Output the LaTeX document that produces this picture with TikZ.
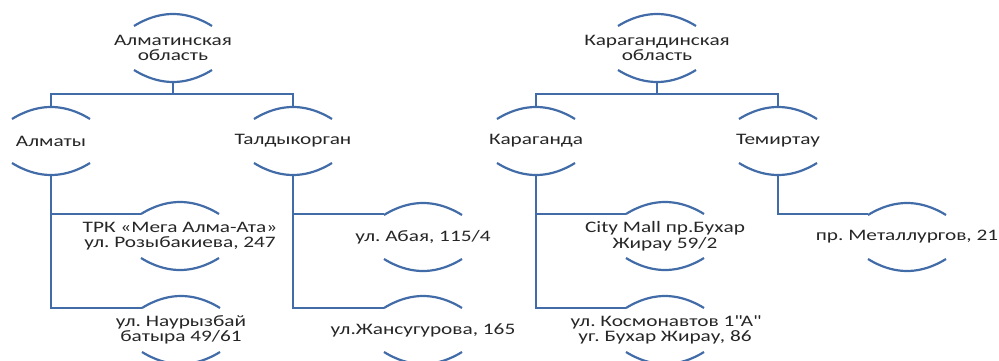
\documentclass[tikz,border=0pt]{standalone}
\usepackage{fontspec}
\setmainfont{Carlito}
\newfontfamily\widefont[FakeStretch=1.33]{Carlito}
\usetikzlibrary{calc}
\frenchspacing

\definecolor{rimblue}{RGB}{66,108,168}
\definecolor{txtgray}{RGB}{38,38,38}

\tikzset{
  lbl/.style={font=\widefont\fontsize{16}{15.5}\selectfont, text=txtgray, align=center, inner sep=0pt},
  rim/.style={draw=rimblue, line width=2.2pt},
  link/.style={draw=rimblue, line width=2.6pt},
}

\begin{document}
\begin{tikzpicture}[x=1pt, y=-1pt]
    \useasboundingbox (0,0) rectangle (999,361);
    % regions
    \node[lbl] (alm) at (173,48) {Алматинская\\область};
    \node[lbl] (kar) at (657,48) {Карагандинская\\область};
    % cities
    \node[lbl] (almaty) at (51,141) {Алматы};
    \node[lbl] (taldy) at (293,141) {Талдыкорган};
    \node[lbl] (karag) at (536,141) {Караганда};
    \node[lbl] (temir) at (778,141) {Темиртау};
    % addresses
    \node[lbl] (mega) at (180,236) {ТРК «Мега Алма-Ата»\\ул. Розыбакиева, 247};
    \node[lbl] (nauryz) at (181,330) {ул. Наурызбай\\батыра 49/61};
    \node[lbl] (abaya) at (423,237) {ул. Абая, 115/4};
    \node[lbl] (zhans) at (423,330) {ул.Жансугурова, 165};
    \node[lbl] (city) at (665,236) {City Mall пр.Бухар\\Жирау 59/2};
    \node[lbl] (kosm) at (665,330) {ул. Космонавтов 1\textquotedbl А\textquotedbl\\уг. Бухар Жирау, 86};
    \node[lbl] (metal) at (907,237) {пр. Металлургов, 21};

    % arcs above and below each label
    \foreach \n in {alm,kar,almaty,taldy,karag,temir,mega,nauryz,abaya,zhans,city,kosm,metal}{
        \draw[rim] ($(\n)+(-39,-22)$) parabola bend ($(\n)+(0,-34)$) ($(\n)+(39,-22)$);
        \draw[rim] ($(\n)+(-39,22)$) parabola bend ($(\n)+(0,34)$) ($(\n)+(39,22)$);
    }

    % region -> city
    \draw[link] ($(alm)+(0,34)$) -- ($(alm)+(0,46)$);
    \draw[link] ($(almaty)+(0,-34)$) |- ($(alm)+(0,46)$) -| ($(taldy)+(0,-34)$);
    \draw[link] ($(kar)+(0,34)$) -- ($(kar)+(0,46)$);
    \draw[link] ($(karag)+(0,-34)$) |- ($(kar)+(0,46)$) -| ($(temir)+(0,-34)$);

    % city -> address
    \draw[link] ($(almaty)+(0,34)$) |- ($(nauryz)+(-39,-22)$);
    \draw[link] ($(almaty)+(0,34)$) |- ($(mega)+(-39,-22)$);
    \draw[link] ($(taldy)+(0,34)$) |- ($(zhans)+(-39,-22)$);
    \draw[link] ($(taldy)+(0,34)$) |- ($(abaya)+(-39,-23)$);
    \draw[link] ($(karag)+(0,34)$) |- ($(kosm)+(-39,-22)$);
    \draw[link] ($(karag)+(0,34)$) |- ($(city)+(-39,-22)$);
    \draw[link] ($(temir)+(0,34)$) |- ($(metal)+(-39,-23)$);
\end{tikzpicture}
\end{document}
